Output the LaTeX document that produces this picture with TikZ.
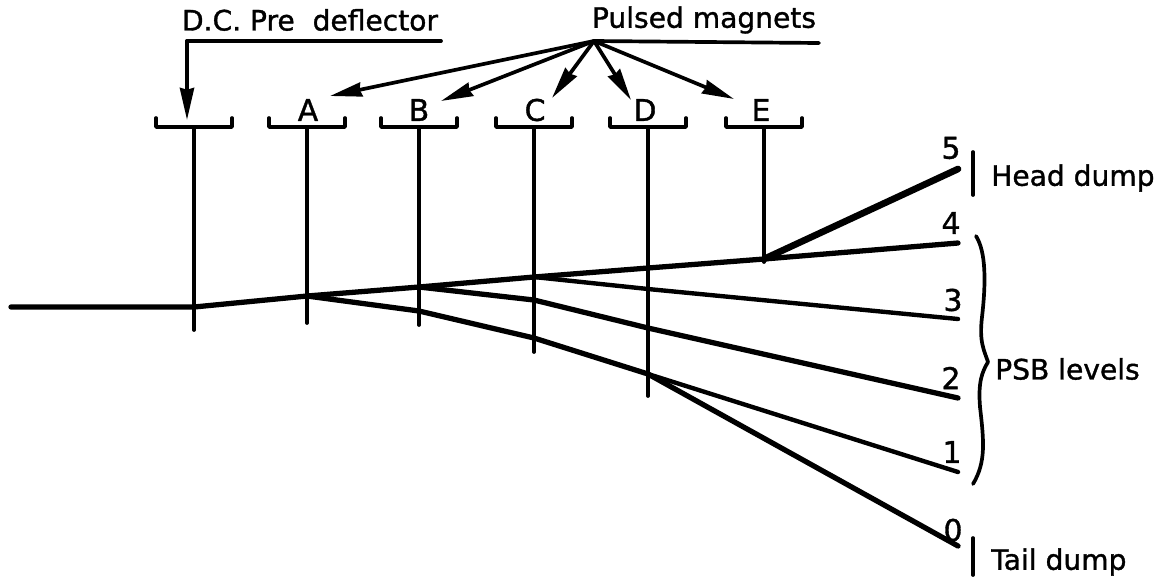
\documentclass[tikz,border=0pt]{standalone}
\usepackage{fontspec}
\setmainfont{DejaVu Sans}[BoldFont={DejaVu Sans},BoldFeatures={FakeBold=1.2}]
\usetikzlibrary{arrows.meta}
\tikzset{
  beam/.style={line width=1.5pt,line cap=round,line join=round},
  thin beam/.style={line width=1.25pt,line cap=round,line join=round},
  stem/.style={line width=1.05pt,line cap=round},
  lettering/.style={inner sep=0pt,font=\fontsize{8}{10}\bfseries},
  level/.style={inner sep=0pt,font=\fontsize{8.5}{10}\bfseries}
}
\begin{document}
\begin{tikzpicture}[x=1cm,y=1cm,>={Stealth[length=.32cm,width=.14cm,inset=.5pt]},line width=.7pt]
  \useasboundingbox (0,0) rectangle (11.64,5.82);
  % beam kinks
  \coordinate (start) at (.11,2.75);
  \coordinate (k0) at (1.94,2.75);
  \coordinate (ka) at (3.07,2.86);
  \coordinate (kb) at (4.19,2.95);
  \coordinate (kc) at (5.34,3.05);
  \coordinate (kd) at (6.48,3.14);
  \coordinate (ke) at (7.64,3.23);
  \coordinate (e5) at (9.58,4.13);
  \coordinate (e4) at (9.58,3.39);
  \coordinate (e3) at (9.58,2.63);
  \coordinate (e2) at (9.58,1.84);
  \coordinate (e1) at (9.58,1.10);
  \coordinate (e0) at (9.58,.36);
  \coordinate (d3) at (6.48,2.93);
  \coordinate (c2) at (5.34,2.82);
  \coordinate (d2) at (6.48,2.54);
  \coordinate (b1) at (4.19,2.71);
  \coordinate (c1) at (5.34,2.44);
  \coordinate (d1) at (6.48,2.08);
  % magnets
  \foreach \name/\xpos/\ylow in {dc/1.94/2.52,a/3.07/2.59,b/4.19/2.57,c/5.34/2.30,d/6.48/1.86,e/7.64/3.20}{
    \coordinate (m\name) at (\xpos,4.55);
    \coordinate (s\name) at (\xpos,\ylow);
    \draw[stem,line join=round] ([shift={(-.38,.09)}]m\name) -- ++(0,-.09) -- ++(.76,0) -- ++(0,.09);
    \draw[stem] (m\name) -- (s\name);
  }
  % beam lines
  \draw[beam] (start) -- (k0) -- (ka) -- (kb) -- (kc) -- (kd) -- (ke) -- (e4);
  \draw[beam,line width=1.9pt] (ke) -- (e5);
  \draw[thin beam] (kc) -- (d3) -- (e3);
  \draw[beam] (kb) -- (c2) -- (d2) -- (e2);
  \draw[beam] (ka) -- (b1) -- (c1) -- (d1);
  \draw[thin beam] (d1) -- (e1);
  \draw[beam] (d1) -- (e0);
  % top labels
  \node[lettering] (dclabel) at (3.10,5.62) {D.C. Pre\ \ deflector};
  \node[lettering] (pulsedlabel) at (7.04,5.62) {Pulsed magnets};
  \coordinate (dcend) at (4.41,5.41);
  \coordinate (dccorner) at (1.87,5.41);
  \coordinate (dctip) at (1.87,4.62);
  \coordinate (hub) at (5.94,5.41);
  \coordinate (hubend) at (8.19,5.39);
  \draw[stem] (dcend) -- (dccorner);
  \draw[->,stem] (dccorner) -- (dctip);
  \draw[stem] (hub) -- (hubend);
  \foreach \name/\txt/\xpos in {la/A/3.08,lb/B/4.19,lc/C/5.35,ld/D/6.45,le/E/7.61}
    \node[level] (\name) at (\xpos,4.72) {\txt};
  \draw[->,stem] (hub) -- (3.30,4.86);
  \draw[->,stem] (hub) -- (4.41,4.81);
  \draw[->,stem] (hub) -- (5.52,4.84);
  \draw[->,stem] (hub) -- (6.31,4.82);
  \draw[->,stem] (hub) -- (7.34,4.83);
  % numbers at the ends
  \node[level] (n5) at (9.51,4.34) {5};
  \node[level] (n4) at (9.51,3.59) {4};
  \node[level] (n3) at (9.53,2.82) {3};
  \node[level] (n2) at (9.51,2.04) {2};
  \node[level] (n1) at (9.52,1.30) {1};
  \node[level] (n0) at (9.53,.52) {0};
  % dumps
  \draw[stem] (9.73,4.30) -- (9.73,3.87);
  \draw[stem] (9.73,.44) -- (9.73,.07);
  \node[lettering,anchor=west] (head) at (9.90,4.04) {Head\ dump};
  \node[lettering,anchor=west] (tail) at (9.90,.20) {Tail dump};
  \node[lettering,anchor=west] (psb) at (9.94,2.13) {PSB levels};
  % brace
  \draw[beam,line width=1.05pt] (9.76,3.46) .. controls (9.86,3.30) and (9.86,3.00) .. (9.82,2.65)
    .. controls (9.79,2.40) and (9.84,2.32) .. (9.88,2.20)
    .. controls (9.82,2.10) and (9.78,2.00) .. (9.80,1.75)
    .. controls (9.84,1.40) and (9.86,1.20) .. (9.73,.98);
\end{tikzpicture}
\end{document}
